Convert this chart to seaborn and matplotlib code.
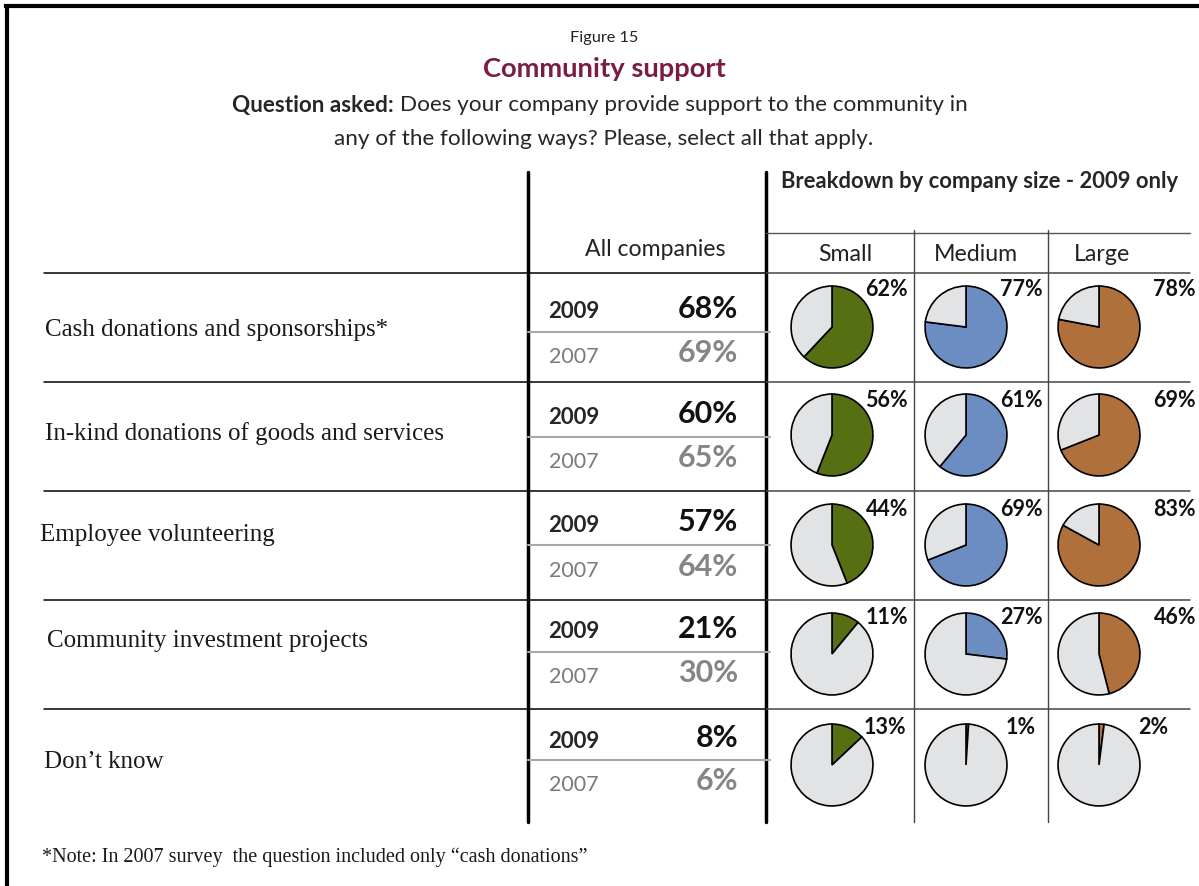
import matplotlib
matplotlib.use("Agg")
import matplotlib.pyplot as plt
import seaborn as sns
import pandas as pd

sns.set_theme(style="white")
plt.rcParams['font.family'] = ['Lato', 'DejaVu Sans']

# data
categories = ["Cash donations and sponsorships*",
              "In-kind donations of goods and services",
              "Employee volunteering",
              "Community investment projects",
              "Don\u2019t know"]
all_2009 = [68, 60, 57, 21, 8]
all_2007 = [69, 65, 64, 30, 6]
small = [62, 56, 44, 11, 13]
medium = [77, 61, 69, 27, 1]
large = [78, 69, 83, 46, 2]
sizes = ["Small", "Medium", "Large"]

df = pd.DataFrame({"Small": small, "Medium": medium, "Large": large}, index=categories)

size_colors = {"Small": "#566f12", "Medium": "#6c8dc2", "Large": "#b0703c"}
rest_color = "#e2e3e5"
title_color = "#7b1c43"

W, H = 1199, 886
fig = plt.figure(figsize=(W / 100, H / 100), dpi=100)
ax = fig.add_axes([0, 0, 1, 1])
ax.set_xlim(0, W)
ax.set_ylim(H, 0)
ax.axis("off")

serif = ['Liberation Serif', 'DejaVu Serif']

# border
ax.plot([6, W], [6, 6], color="black", lw=3, solid_capstyle="projecting")
ax.plot([7, 7], [6, H], color="black", lw=3)

# titles
ax.text(604, 38, "Figure 15", ha="center", va="center", fontsize=11.7, color="#222222")
ax.text(604, 69, "Community support", ha="center", va="center", fontsize=19.7,
        fontweight="bold", color=title_color)
q1 = ax.text(232, 105, "Question asked:", ha="left", va="center", fontsize=16.2, fontweight="bold")
fig.canvas.draw()
bb = q1.get_window_extent()
ax.text(bb.x1 + 6, 105, "Does your company provide support to the community in",
        ha="left", va="center", fontsize=16.2)
ax.text(604, 139, "any of the following ways? Please, select all that apply.",
        ha="center", va="center", fontsize=16.2)

# frame lines
ax.plot([528, 528], [172, 822], color="black", lw=2.5)
ax.plot([766, 766], [172, 822], color="black", lw=2.5)
ax.plot([766, 1190], [233, 233], color="#555555", lw=1)
for x in [914, 1048]:
    ax.plot([x, x], [230, 822], color="#444444", lw=1)

ax.text(781, 181, "Breakdown by company size - 2009 only", ha="left", va="center",
        fontsize=15.8, fontweight="bold")
ax.text(655, 249, "All companies", ha="center", va="center", fontsize=16.6, color="#222222")
col_x = [832, 966, 1099]
head_x = [845, 976, 1102]
for x, s in zip(head_x, sizes):
    ax.text(x, 254, s, ha="center", va="center", fontsize=16.7, color="#222222")

row_lines = [273, 382, 491, 600, 709]
pie_y = [327, 435, 545, 654, 765]
label_x = [45, 45, 40, 47, 44]
label_y = [330, 434, 535, 641, 762]
y09 = [312, 417, 525, 632, 741]
y07 = [357, 462, 571, 677, 785]
pct_y = [290, 400, 509, 617, 727]
pct_x = [[908, 1043, 1196]] * 4 + [[906, 1036, 1168]]
r = 41

for i, cat in enumerate(categories):
    yl = row_lines[i]
    ax.plot([44, 766], [yl, yl], color="black", lw=1.1)
    ax.plot([766, 1190], [yl, yl], color="#444444", lw=1.1)
    ax.plot([528, 770], [(y09[i] + y07[i]) / 2 - 3] * 2, color="#a8a8a8", lw=1.5)

    ax.text(label_x[i], label_y[i], cat, ha="left", va="center", fontsize=18,
            family=serif, color="#1a1a1a")
    ax.text(548, y09[i], "2009", ha="left", va="center", fontsize=16, fontweight="bold")
    ax.text(738, y09[i] - 3, f"{all_2009[i]}%", ha="right", va="center",
            fontsize=22, fontweight="bold", color="#111111")
    ax.text(549, y07[i], "2007", ha="left", va="center", fontsize=15.5, color="#7a7a7a")
    ax.text(738, y07[i] - 4, f"{all_2007[i]}%", ha="right", va="center",
            fontsize=22, fontweight="bold", color="#858585")

    for j, s in enumerate(sizes):
        v = df.loc[cat, s]
        cx, cy = col_x[j], pie_y[i]
        pax = fig.add_axes([(cx - r - 2) / W, 1 - (cy + r + 2) / H, (2 * r + 4) / W, (2 * r + 4) / H])
        pax.pie([v, 100 - v], colors=[size_colors[s], rest_color], startangle=90,
                counterclock=False, wedgeprops=dict(edgecolor="black", linewidth=1.2))
        pax.set_xlim(-1.05, 1.05)
        pax.set_ylim(-1.05, 1.05)
        pax.set_aspect("equal")
        pax.axis("off")
        ax.text(pct_x[i][j], pct_y[i], f"{v}%", ha="right", va="center",
                fontsize=15.5, fontweight="bold", color="#111111")

ax.text(42, 857, "*Note: In 2007 survey  the question included only \u201ccash donations\u201d",
        ha="left", va="center", fontsize=14.5, family=serif, color="#1a1a1a")

fig.savefig("out.png", dpi=100)
